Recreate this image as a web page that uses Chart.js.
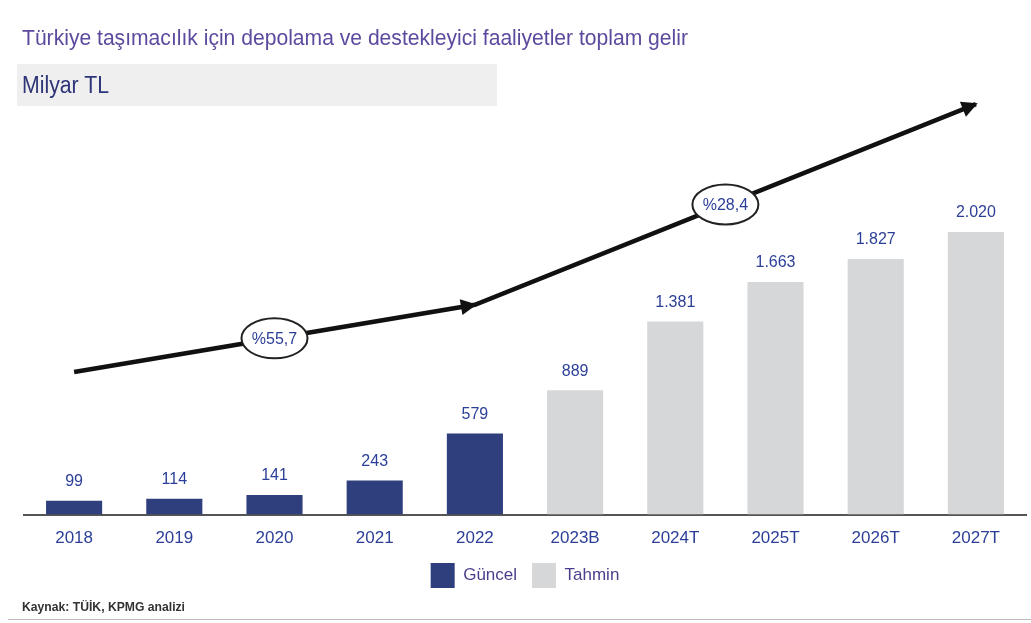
<!DOCTYPE html>
<html>
<head>
<meta charset="utf-8">
<script src="https://cdn.jsdelivr.net/npm/chart.js@4.4.1/dist/chart.umd.min.js"></script>
<style>
  html, body { margin: 0; padding: 0; background: #fff; }
  body { width: 1031px; height: 623px; position: relative; overflow: hidden;
         font-family: "Liberation Sans", Arial, sans-serif; }
  .fit { position: absolute; white-space: nowrap; transform-origin: 0 0; }
  #title { left: 22px; top: 25px; font-size: 22px; color: #5d4a9e; }
  #unit { position: absolute; left: 17px; top: 64px; width: 480px; height: 42px; background: #efefef; }
  #unitText { left: 22px; top: 72px; font-size: 23px; color: #2d3578; }
  #source { left: 22px; top: 599px; font-size: 13px; color: #333; font-weight: bold; }
  #rule { position: absolute; left: 8px; right: 0; top: 619px; height: 1px; background: #bbb; }
  #wrap { position: absolute; left: 0; top: 0; width: 1031px; height: 623px; }
</style>
</head>
<body>
<div id="unit"></div>
<div id="wrap"><canvas id="c"></canvas></div>
<div id="title" class="fit" data-w="666">Türkiye taşımacılık için depolama ve destekleyici faaliyetler toplam gelir</div>
<div id="unitText" class="fit" data-w="87">Milyar TL</div>
<div id="source" class="fit" data-w="163">Kaynak: TÜİK, KPMG analizi</div>
<div id="rule"></div>
<script>
const years = ['2018', '2019', '2020', '2021', '2022', '2023B', '2024T', '2025T', '2026T', '2027T'];
const actual = [99, 114, 141, 243, 579, null, null, null, null, null];
const forecast = [null, null, null, null, null, 889, 1381, 1663, 1827, 2020];
// trend arrow drawn through these points (value axis units)
const trend = [1020, null, null, null, 1500, null, null, null, null, 2935];
const cagr = ['%55,7', '%28,4'];

const navy = '#2f3f7e';
const grey = '#d6d7d9';
const labelBlue = '#2c3f98';
const font = '"Liberation Sans", Arial, sans-serif';
const legendNudge = -15;

// squeeze the narrow-looking html texts to the reference width
document.querySelectorAll('.fit').forEach(el => {
  const w = el.getBoundingClientRect().width;
  el.style.transform = 'scaleX(' + (+el.dataset.w / w) + ')';
});

const fmt = v => String(v).replace(/\B(?=(\d{3})+(?!\d))/g, '.');

const valueLabels = {
  id: 'valueLabels',
  afterDatasetsDraw(chart) {
    const ctx = chart.ctx;
    ctx.save();
    ctx.font = '16px ' + font;
    ctx.fillStyle = labelBlue;
    ctx.textAlign = 'center';
    ctx.textBaseline = 'middle';
    [0, 1].forEach(i => {
      const meta = chart.getDatasetMeta(i);
      meta.data.forEach((el, j) => {
        const v = chart.data.datasets[i].data[j];
        if (v == null) return;
        ctx.fillText(fmt(v), el.x, el.y - 19);
      });
    });
    ctx.restore();
  }
};

const arrows = {
  id: 'arrows',
  afterDatasetsDraw(chart) {
    const ctx = chart.ctx;
    const pts = chart.getDatasetMeta(2).data.filter((el, j) => trend[j] != null);
    ctx.save();
    // arrow heads
    ctx.fillStyle = '#111';
    for (let k = 1; k < pts.length; k++) {
      const a = pts[k - 1], b = pts[k];
      const ang = Math.atan2(b.y - a.y, b.x - a.x);
      ctx.save();
      ctx.translate(b.x, b.y);
      ctx.rotate(ang);
      ctx.beginPath();
      ctx.moveTo(2, 0);
      ctx.lineTo(-14, -8);
      ctx.lineTo(-14, 8);
      ctx.closePath();
      ctx.fill();
      ctx.restore();
    }
    // CAGR ellipses at segment midpoints
    ctx.font = '16px ' + font;
    ctx.textAlign = 'center';
    ctx.textBaseline = 'middle';
    for (let k = 1; k < pts.length; k++) {
      const a = pts[k - 1], b = pts[k];
      const mx = (a.x + b.x) / 2, my = (a.y + b.y) / 2;
      ctx.beginPath();
      ctx.ellipse(mx, my, 33, 20, 0, 0, Math.PI * 2);
      ctx.fillStyle = '#fff';
      ctx.fill();
      ctx.lineWidth = 2;
      ctx.strokeStyle = '#222';
      ctx.stroke();
      ctx.fillStyle = labelBlue;
      ctx.fillText(cagr[k - 1], mx, my + 1);
    }
    ctx.restore();
  }
};

// pull the legend a little closer to the axis labels
const legendShift = {
  id: 'legendShift',
  afterLayout(chart) {
    chart.legend.top += legendNudge;
    chart.legend.bottom += legendNudge;
  }
};

new Chart(document.getElementById('c'), {
  type: 'bar',
  data: {
    labels: years,
    datasets: [{
      label: 'Güncel',
      data: actual,
      backgroundColor: navy,
      skipNull: true,
      order: 1
    }, {
      label: 'Tahmin',
      data: forecast,
      backgroundColor: grey,
      skipNull: true,
      order: 1
    }, {
      type: 'line',
      label: 'trend',
      data: trend,
      borderColor: '#111',
      borderWidth: 4.5,
      pointRadius: 0,
      spanGaps: true,
      tension: 0,
      order: 0
    }]
  },
  options: {
    responsive: true,
    maintainAspectRatio: false,
    animation: false,
    categoryPercentage: 1,
    barPercentage: 0.56,
    layout: {
      padding: {left: 24, right: 5, top: 95, bottom: 10}
    },
    plugins: {
      legend: {
        position: 'bottom',
        labels: {
          filter: item => item.datasetIndex < 2,
          boxWidth: 24,
          boxHeight: 25,
          padding: 15,
          color: '#4a3f8c',
          font: {family: font, size: 17}
        }
      },
      tooltip: {enabled: false}
    },
    scales: {
      x: {
        grid: {display: false, drawTicks: false},
        border: {display: true, color: '#555', width: 2},
        ticks: {color: labelBlue, font: {family: font, size: 17}, padding: 14}
      },
      y: {
        display: false,
        min: 0,
        max: 3000
      }
    }
  },
  plugins: [valueLabels, arrows, legendShift]
});
</script>
</body>
</html>
